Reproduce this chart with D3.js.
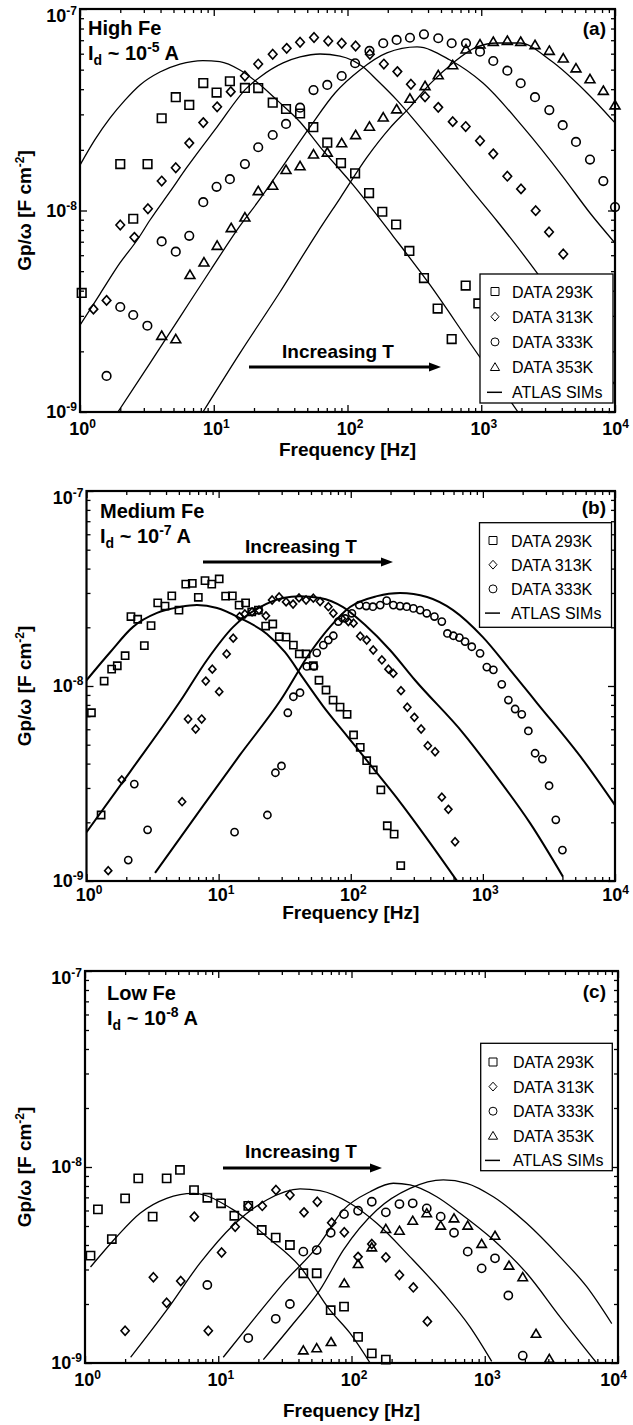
<!DOCTYPE html>
<html>
<head>
<meta charset="utf-8">
<script src="https://cdn.jsdelivr.net/npm/d3@7"></script>
<style>
  body { margin: 0; background: #fff; }
  svg { display: block; font-family: "Liberation Sans", Arial, sans-serif; }
</style>
</head>
<body>
<svg id="fig" width="633" height="1425"></svg>
<script>
// ---- data : [frequency Hz, Gp/w F cm-2] ----

// (a) High Fe
const highFe293 = [[1.03,3.9e-9],[2.0,1.7e-8],[2.5,9.1e-9],[3.2,1.7e-8],[4.08,2.87e-8],[5.2,3.65e-8],[6.56,3.34e-8],[8.35,4.29e-8],[10.5,3.85e-8],[13.2,4.38e-8],[17.1,4.06e-8],[21.5,4.05e-8],[27.6,3.43e-8],[34.7,3.19e-8],[44.2,3.03e-8],[55.5,2.59e-8],[70.6,2.17e-8],[89.4,1.72e-8],[114,1.53e-8],[145,1.22e-8],[182,9.86e-9],[231,8.52e-9],[290,6.3e-9],[373,4.62e-9],[472,3.26e-9],[601,2.3e-9],[765,4.24e-9],[951,3.46e-9]];
const highFe313 = [[1.26,3.24e-9],[1.58,3.58e-9],[2.0,8.47e-9],[2.55,7.36e-9],[3.22,1.02e-8],[4.08,1.4e-8],[5.2,1.63e-8],[6.56,2.16e-8],[8.35,2.73e-8],[10.6,3.27e-8],[13.4,3.89e-8],[17.1,4.65e-8],[21.5,5.33e-8],[27.6,5.96e-8],[35.1,6.38e-8],[44.2,6.84e-8],[56.2,7.22e-8],[71.8,6.94e-8],[90.5,6.76e-8],[115,6.55e-8],[147,5.96e-8],[187,5.33e-8],[236,4.89e-8],[298,4.23e-8],[380,3.67e-8],[477,3.25e-8],[612,2.76e-8],[765,2.61e-8],[979,2.22e-8],[1230,1.91e-8],[1567,1.48e-8],[1983,1.28e-8],[2553,9.98e-9],[3213,7.82e-9],[4104,6.08e-9]];
const highFe333 = [[1.58,1.51e-9],[2.0,3.32e-9],[2.5,3.03e-9],[3.19,2.68e-9],[4.08,7.02e-9],[5.2,6.25e-9],[6.56,7.49e-9],[8.35,1.1e-8],[10.5,1.31e-8],[13.2,1.43e-8],[17.1,1.7e-8],[21.5,2.06e-8],[27.6,2.37e-8],[34.7,2.69e-8],[44.2,3.24e-8],[55.7,3.96e-8],[70.6,4.2e-8],[90.5,4.65e-8],[114,5.38e-8],[146,6.19e-8],[185,6.76e-8],[233,7.02e-8],[293,7.2e-8],[373,7.49e-8],[477,7.16e-8],[601,6.76e-8],[769,6.76e-8],[979,6.14e-8],[1230,5.52e-8],[1567,4.94e-8],[1972,4.28e-8],[2523,3.65e-8],[3228,3.15e-8],[4064,2.65e-8],[5108,2.19e-8],[6501,1.79e-8],[8180,1.4e-8],[10000,1.04e-8]];
const highFe353 = [[4.08,2.39e-9],[5.2,2.3e-9],[6.64,4.79e-9],[8.45,5.53e-9],[10.6,6.69e-9],[13.5,8.19e-9],[17.1,9.25e-9],[21.5,1.25e-8],[27.6,1.33e-8],[34.7,1.59e-8],[44.2,1.66e-8],[55.7,1.9e-8],[70.6,1.94e-8],[90.5,2.16e-8],[115,2.37e-8],[146,2.61e-8],[185,2.9e-8],[233,3.18e-8],[293,3.59e-8],[380,4.15e-8],[477,4.7e-8],[612,5.27e-8],[769,6.31e-8],[979,6.68e-8],[1230,6.88e-8],[1567,6.96e-8],[1972,6.88e-8],[2523,6.63e-8],[3228,6.21e-8],[4104,5.69e-8],[5108,5.08e-8],[6501,4.49e-8],[8180,3.93e-8],[10000,3.33e-8]];
const highFeSim293 = [[1,1.68e-8],[1.29,2.24e-8],[1.68,2.88e-8],[2.17,3.53e-8],[2.81,4.2e-8],[3.96,4.87e-8],[5.59,5.33e-8],[8.3,5.55e-8],[11.1,5.48e-8],[15.7,4.98e-8],[21.4,4.29e-8],[29.7,3.53e-8],[44.2,2.75e-8],[62.3,2.07e-8],[110,1.34e-8],[219,7.47e-9],[414,4.27e-9],[824,2.2e-9],[1883,1.0e-9]];
const highFeSim313 = [[1,2.7e-9],[1.41,3.85e-9],[1.99,5.49e-9],[2.71,7.22e-9],[3.34,8.97e-9],[4.71,1.24e-8],[6.31,1.64e-8],[10.6,2.6e-8],[17.7,4.06e-8],[22.2,4.6e-8],[33,5.4e-8],[44.2,5.78e-8],[62.3,5.98e-8],[87.9,5.84e-8],[131,5.15e-8],[166,4.44e-8],[234,3.53e-8],[348,2.6e-8],[518,1.89e-8],[824,1.29e-8],[1312,8.87e-9],[2612,4.9e-9],[4605,2.86e-9],[10000,1.36e-9]];
const highFeSim333 = [[1.92,1.0e-9],[3.34,1.75e-9],[5.59,2.96e-9],[9.37,5.01e-9],[15.7,8.38e-9],[21.1,1.09e-8],[35.3,1.78e-8],[52.5,2.6e-8],[80.7,3.83e-8],[124,4.98e-8],[197,6.05e-8],[331,6.48e-8],[584,5.58e-8],[1030,4.29e-8],[2051,2.6e-8],[4083,1.47e-8],[6501,9.72e-9],[10000,6.9e-9]];
const highFeSim353 = [[8.3,1.0e-9],[15.7,1.96e-9],[31.3,3.94e-9],[59.2,7.73e-9],[87.9,1.15e-8],[140,1.84e-8],[208,2.57e-8],[293,3.26e-8],[414,4.25e-8],[615,5.4e-8],[929,6.48e-8],[1312,6.78e-8],[1950,6.78e-8],[3266,5.58e-8],[6180,3.83e-8],[10000,2.72e-8]];

// (b) Medium Fe
const medFe293 = [[1.09,7.29e-9],[1.29,2.18e-9],[1.36,1.06e-8],[1.55,1.22e-8],[1.71,1.27e-8],[1.96,1.43e-8],[2.17,2.27e-8],[2.44,2.2e-8],[2.74,1.61e-8],[3.08,2.04e-8],[3.46,2.67e-8],[3.93,2.57e-8],[4.42,2.9e-8],[5.01,2.45e-8],[5.64,3.33e-8],[6.32,3.36e-8],[7.02,2.85e-8],[7.89,3.47e-8],[8.87,3.33e-8],[10.1,3.54e-8],[11.3,2.89e-8],[12.7,2.9e-8],[14.3,2.6e-8],[16.0,2.67e-8],[17.8,2.4e-8],[20.0,2.45e-8],[22.7,2.03e-8],[25.7,2.08e-8],[28.8,1.79e-8],[32.4,1.78e-8],[36.8,1.62e-8],[40.8,1.46e-8],[45.9,1.46e-8],[52.1,1.27e-8],[57.5,1.07e-8],[65,9.54e-9],[73.5,8.47e-9],[83,7.8e-9],[93.8,7.16e-9],[105,5.61e-9],[118,4.85e-9],[132,4.14e-9],[148,3.71e-9],[169,2.93e-9],[189,1.92e-9],[213,1.74e-9],[239,1.2e-9]];
const medFe313 = [[1.46,1.13e-9],[1.85,3.3e-9],[5.29,2.55e-9],[5.87,6.77e-9],[6.7,6.02e-9],[7.44,6.77e-9],[7.99,1.06e-8],[8.96,1.22e-8],[10.1,9.35e-9],[11.5,1.46e-8],[12.9,1.76e-8],[14.4,2.27e-8],[15.8,2.34e-8],[17.9,2.4e-8],[20.2,2.45e-8],[22.8,2.29e-8],[25.4,2.76e-8],[28.7,2.86e-8],[32.4,2.7e-8],[36.6,2.63e-8],[40.6,2.83e-8],[45.9,2.76e-8],[52.1,2.82e-8],[58.6,2.71e-8],[67.7,2.55e-8],[73.8,2.36e-8],[85.5,2.22e-8],[95.9,2.14e-8],[105,2.1e-8],[118,1.8e-8],[132,1.72e-8],[148,1.53e-8],[172,1.36e-8],[193,1.22e-8],[210,1.16e-8],[240,9.46e-9],[268,7.78e-9],[303,6.91e-9],[341,6.02e-9],[383,4.94e-9],[435,4.6e-9],[489,2.69e-9],[548,2.33e-9],[616,1.59e-9]];
const medFe333 = [[2.07,1.28e-9],[2.3,3.14e-9],[2.9,1.83e-9],[13.2,1.78e-9],[23.4,2.18e-9],[26.9,3.59e-9],[29.9,3.89e-9],[33.4,7.29e-9],[36.8,8.81e-9],[41.3,9.24e-9],[46.5,1.26e-8],[52.7,1.26e-8],[55.3,1.48e-8],[62,1.62e-8],[67.7,1.72e-8],[73.8,1.81e-8],[80.5,2.14e-8],[90.5,2.22e-8],[102,2.36e-8],[116,2.6e-8],[131,2.57e-8],[147,2.55e-8],[167,2.6e-8],[187,2.74e-8],[210,2.6e-8],[236,2.57e-8],[265,2.55e-8],[298,2.5e-8],[335,2.45e-8],[376,2.36e-8],[430,2.27e-8],[489,2.14e-8],[539,1.86e-8],[598,1.81e-8],[664,1.77e-8],[733,1.69e-8],[824,1.59e-8],[952,1.47e-8],[1071,1.25e-8],[1201,1.21e-8],[1390,1.02e-8],[1560,8.47e-9],[1754,7.62e-9],[1970,7.16e-9],[2209,5.88e-9],[2485,4.52e-9],[2820,4.22e-9],[3170,3.08e-9],[3565,2.06e-9],[4000,1.44e-9]];
const medFeSim293 = [[1,1.07e-8],[1.51,1.49e-8],[2.25,2.01e-8],[3.42,2.37e-8],[5.1,2.54e-8],[6.86,2.6e-8],[9.73,2.51e-8],[14.5,2.23e-8],[23.2,1.85e-8],[31.8,1.49e-8],[43.5,1.1e-8],[61.7,7.89e-9],[93.8,5.54e-9],[147,3.8e-9],[236,2.54e-9],[398,1.57e-9],[638,1.0e-9]];
const medFeSim313 = [[1,1.78e-9],[2.13,3.62e-9],[5.19,8.47e-9],[8.17,1.36e-8],[12.9,2.01e-8],[20.6,2.54e-8],[30.7,2.83e-8],[41.3,2.89e-8],[58.6,2.83e-8],[87.5,2.54e-8],[128,2.06e-8],[198,1.53e-8],[307,1.07e-8],[708,5.74e-9],[1280,3.41e-9],[2277,1.98e-9],[4046,1.05e-9]];
const medFeSim333 = [[3.3,1.1e-9],[7.23,2.31e-9],[14.5,4.43e-9],[29.5,8.47e-9],[49.2,1.48e-8],[69.7,2.01e-8],[98.8,2.54e-8],[158,2.89e-8],[236,3.0e-8],[378,2.86e-8],[595,2.45e-8],[1000,1.78e-8],[1607,1.21e-8],[2570,8.18e-9],[5735,4.17e-9],[10000,2.45e-9]];

// (c) Low Fe
const lowFe293 = [[1.1,3.53e-9],[1.25,6.08e-9],[1.59,4.29e-9],[2.0,6.92e-9],[2.51,8.75e-9],[3.22,5.58e-9],[4.1,8.75e-9],[5.16,9.66e-9],[6.58,7.63e-9],[8.28,6.97e-9],[10.5,6.53e-9],[13.2,5.64e-9],[16.8,6.33e-9],[21.2,4.77e-9],[27,4.36e-9],[34.5,4.0e-9],[43.5,2.87e-9],[54.8,2.87e-9],[69.8,1.86e-9],[87.9,1.94e-9],[112,1.36e-9],[142,1.12e-9],[181,1.04e-9]];
const lowFe313 = [[2.0,1.46e-9],[3.26,2.74e-9],[4.1,2.03e-9],[5.23,2.62e-9],[6.61,5.58e-9],[8.42,1.46e-9],[10.6,3.66e-9],[13.4,4.96e-9],[16.8,6.33e-9],[21.4,6.33e-9],[27.1,7.63e-9],[34.5,7.2e-9],[44,5.87e-9],[55.4,6.65e-9],[71,5.2e-9],[88.3,4.65e-9],[112,3.48e-9],[142,4.05e-9],[181,3.46e-9],[229,2.81e-9],[291,2.43e-9],[371,1.63e-9]];
const lowFe333 = [[8.28,2.5e-9],[16.8,1.34e-9],[27,1.68e-9],[34.5,2.0e-9],[43.5,3.7e-9],[54.8,3.77e-9],[69.8,4.62e-9],[87.9,5.75e-9],[112,5.98e-9],[142,6.65e-9],[181,5.87e-9],[229,6.47e-9],[288,6.53e-9],[367,6.15e-9],[467,5.58e-9],[588,4.62e-9],[745,3.7e-9],[948,3.04e-9],[1194,3.42e-9],[1503,2.21e-9],[1928,1.09e-9]];
const lowFe353 = [[43.5,1.16e-9],[54.8,1.19e-9],[70.2,1.28e-9],[88.3,2.55e-9],[112,3.2e-9],[142,3.89e-9],[181,4.83e-9],[229,4.73e-9],[288,5.32e-9],[367,5.81e-9],[467,5.02e-9],[588,5.47e-9],[745,5.02e-9],[948,4.05e-9],[1194,4.46e-9],[1521,3.14e-9],[1928,2.74e-9],[2425,1.41e-9],[3051,1.05e-9]];
const lowFeSim293 = [[1.1,3.09e-9],[1.73,4.41e-9],[2.59,5.81e-9],[4.1,6.92e-9],[6.5,7.34e-9],[13,6.04e-9],[23.1,4.41e-9],[41.1,3.1e-9],[69,1.86e-9],[97.5,1.42e-9],[138,1.0e-9]];
const lowFeSim313 = [[2.2,1.07e-9],[4.1,1.86e-9],[7.29,3.23e-9],[13,5.06e-9],[23.1,6.79e-9],[41.1,7.73e-9],[58,7.57e-9],[97.5,6.53e-9],[155,5.16e-9],[275,3.48e-9],[489,2.27e-9],[775,1.53e-9],[1128,1.02e-9]];
const lowFeSim333 = [[10.9,1.07e-9],[18.3,1.66e-9],[30.8,2.55e-9],[58,4.08e-9],[86.8,6.04e-9],[138,7.48e-9],[206,8.26e-9],[275,8.1e-9],[436,7.05e-9],[652,5.81e-9],[1159,4.25e-9],[2065,2.87e-9],[3672,1.72e-9],[6920,1.0e-9]];
const lowFeSim353 = [[21.8,1.04e-9],[36.6,1.59e-9],[58,2.36e-9],[86.8,3.77e-9],[155,6.04e-9],[275,7.78e-9],[489,8.59e-9],[732,8.26e-9],[1159,7.05e-9],[2065,5.16e-9],[3672,3.48e-9],[5821,2.45e-9],[8970,1.59e-9]];

const markerTypes = ["square", "diamond", "circle", "triangle"];
const dataLabels = ["DATA 293K", "DATA 313K", "DATA 333K", "DATA 353K"];
const simLabel = "ATLAS SIMs";
const xDomain = [1, 1e4];
const yDomain = [1e-9, 1e-7];

// ---- layout of the three panels ----
const panels = [
  {
    tag: "(a)", name: "High Fe", idExp: "-5",
    frame: {left: 80, right: 615, top: 9, bottom: 412},
    data: [highFe293, highFe313, highFe333, highFe353],
    sims: [highFeSim293, highFeSim313, highFeSim333, highFeSim353],
    ms: 4.3, simW: 1.3,
    nameAt: [88, 35], idAt: [88, 60], tagAt: [606, 35],
    arrow: {x1: 249, x2: 441, y: 367, tx: 282, ty: 358},
    legend: {x: 480, y: 274, w: 133, h: 129, row0: 291.5, step: 25.2, sx: 495, tx: 512},
    xPad: 10, xTitleY: 456, yTitleX: 31
  },
  {
    tag: "(b)", name: "Medium Fe", idExp: "-7",
    frame: {left: 86.5, right: 615, top: 491, bottom: 881},
    data: [medFe293, medFe313, medFe333],
    sims: [medFeSim293, medFeSim313, medFeSim333],
    ms: 3.6, simW: 2,
    nameAt: [100, 518], idAt: [100, 543], tagAt: [606, 514],
    arrow: {x1: 203, x2: 393, y: 562, tx: 245, ty: 553},
    legend: {x: 479.5, y: 522.7, w: 132, h: 104.6, row0: 540.5, step: 24.2, sx: 493, tx: 511},
    xPad: 7, xTitleY: 919, yTitleX: 31
  },
  {
    tag: "(c)", name: "Low Fe", idExp: "-8",
    frame: {left: 85, right: 618, top: 971, bottom: 1363},
    data: [lowFe293, lowFe313, lowFe333, lowFe353],
    sims: [lowFeSim293, lowFeSim313, lowFeSim333, lowFeSim353],
    ms: 4.1, simW: 1.3,
    nameAt: [107, 1000], idAt: [107, 1025], tagAt: [606, 998],
    arrow: {x1: 223, x2: 382, y: 1168, tx: 245, ty: 1158},
    legend: {x: 480.7, y: 1043.3, w: 131.6, h: 127.4, row0: 1062, step: 24.6, sx: 493, tx: 513},
    xPad: 10, xTitleY: 1417, yTitleX: 31
  }
];

const svg = d3.select("#fig");

function markerPath(type, s) {
  if (type === "square") return `M${-s},${-s}H${s}V${s}H${-s}Z`;
  if (type === "diamond") return `M0,${-s * 1.1}L${s},0L0,${s * 1.1}L${-s},0Z`;
  if (type === "circle") return `M${s},0A${s},${s} 0 1,1 ${-s},0A${s},${s} 0 1,1 ${s},0Z`;
  return `M0,${-s * 1.1}L${s * 1.15},${s * 0.85}L${-s * 1.15},${s * 0.85}Z`;
}

function logTicks(lo, hi) {
  const t = [];
  for (let e = lo; e < hi; e++) for (let m = 1; m < 10; m++) t.push(m * Math.pow(10, e));
  t.push(Math.pow(10, hi));
  return t;
}
const isMajor = d => Math.abs(Math.log10(d) - Math.round(Math.log10(d))) < 1e-6;

function powerLabel(sel, exp, supSize, rise) {
  sel.append("tspan").text("10");
  sel.append("tspan").attr("dy", -rise).attr("font-size", supSize).text(exp);
}

function drawPanel(p, idx) {
  const f = p.frame;
  const x = d3.scaleLog().domain(xDomain).range([f.left, f.right]);
  const y = d3.scaleLog().domain(yDomain).range([f.bottom, f.top]);
  const g = svg.append("g");

  const clipId = "clip" + idx;
  g.append("clipPath").attr("id", clipId).append("rect")
    .attr("x", f.left).attr("y", f.top)
    .attr("width", f.right - f.left).attr("height", f.bottom - f.top);

  const xt = logTicks(0, 4), yt = logTicks(-9, -7);

  // bottom axis with labels
  const gx = g.append("g").attr("transform", `translate(0,${f.bottom})`)
    .call(d3.axisBottom(x).tickValues(xt).tickSizeInner(-4).tickSizeOuter(0).tickPadding(p.xPad)
      .tickFormat(d => isMajor(d) ? String(Math.round(Math.log10(d))) : ""));
  // left axis with labels
  const gy = g.append("g").attr("transform", `translate(${f.left},0)`)
    .call(d3.axisLeft(y).tickValues(yt).tickSizeInner(-4).tickSizeOuter(0).tickPadding(3)
      .tickFormat(d => isMajor(d) ? String(Math.round(Math.log10(d))) : ""));
  // mirrored top / right ticks
  const gt = g.append("g").attr("transform", `translate(0,${f.top})`)
    .call(d3.axisTop(x).tickValues(xt).tickSizeInner(-4).tickSizeOuter(0).tickFormat(""));
  const gr = g.append("g").attr("transform", `translate(${f.right},0)`)
    .call(d3.axisRight(y).tickValues(yt).tickSizeInner(-4).tickSizeOuter(0).tickFormat(""));

  [gx, gy, gt, gr].forEach(a => {
    a.select(".domain").remove();
    a.attr("font-family", null).attr("font-size", 18).attr("font-weight", "bold");
    a.selectAll(".tick line").attr("stroke-width", 1.3);
  });
  gx.selectAll(".tick line").attr("y2", d => isMajor(d) ? -7 : -4);
  gt.selectAll(".tick line").attr("y2", d => isMajor(d) ? 7 : 4);
  gy.selectAll(".tick line").attr("x2", d => isMajor(d) ? 7 : 4);
  gr.selectAll(".tick line").attr("x2", d => isMajor(d) ? -7 : -4);

  gx.selectAll(".tick text").each(function (d) {
    const t = d3.select(this);
    if (!isMajor(d)) { t.remove(); return; }
    const last = d >= xDomain[1] * 0.999;
    t.text(null).attr("dx", last ? (633 - f.right < 18 ? -5 : 0) : 2);
    powerLabel(t, String(Math.round(Math.log10(d))), 12, 7);
  });
  gy.selectAll(".tick text").each(function (d) {
    const t = d3.select(this);
    if (!isMajor(d)) { t.remove(); return; }
    t.text(null);
    if (d >= yDomain[1] * 0.999) t.attr("y", 7);
    powerLabel(t, String(Math.round(Math.log10(d))), 12, 7);
  });

  // simulation curves
  const line = d3.line().x(d => x(d[0])).y(d => y(d[1])).curve(d3.curveMonotoneX);
  g.append("g").attr("clip-path", `url(#${clipId})`)
    .selectAll("path").data(p.sims).join("path")
    .attr("d", line).attr("fill", "none").attr("stroke", "#000")
    .attr("stroke-width", p.simW).attr("stroke-linejoin", "round");

  // measured data
  p.data.forEach((series, i) => {
    g.append("g").selectAll("path").data(series).join("path")
      .attr("transform", d => `translate(${x(d[0])},${y(d[1])})`)
      .attr("d", markerPath(markerTypes[i], p.ms))
      .attr("fill", "none").attr("stroke", "#000").attr("stroke-width", 1.6);
  });

  // frame
  g.append("rect").attr("x", f.left).attr("y", f.top)
    .attr("width", f.right - f.left).attr("height", f.bottom - f.top)
    .attr("fill", "none").attr("stroke", "#000").attr("stroke-width", 2.2);

  // annotations
  g.append("text").attr("x", p.nameAt[0]).attr("y", p.nameAt[1])
    .attr("font-size", 20).attr("font-weight", "bold").text(p.name);
  const id = g.append("text").attr("x", p.idAt[0]).attr("y", p.idAt[1])
    .attr("font-size", 20).attr("font-weight", "bold");
  id.append("tspan").text("I");
  id.append("tspan").attr("dy", 5).attr("font-size", 14).text("d");
  id.append("tspan").attr("dy", -5).text(" ~ 10");
  id.append("tspan").attr("dy", -8).attr("font-size", 14).text(p.idExp);
  id.append("tspan").attr("dy", 8).text(" A");
  g.append("text").attr("x", p.tagAt[0]).attr("y", p.tagAt[1]).attr("text-anchor", "end")
    .attr("font-size", 19).attr("font-weight", "bold").text(p.tag);

  const a = p.arrow;
  g.append("text").attr("x", a.tx).attr("y", a.ty)
    .attr("font-size", 19).attr("font-weight", "bold").text("Increasing T");
  g.append("line").attr("x1", a.x1).attr("x2", a.x2 - 9).attr("y1", a.y).attr("y2", a.y)
    .attr("stroke", "#000").attr("stroke-width", 3);
  g.append("path").attr("d", `M${a.x2},${a.y}L${a.x2 - 12},${a.y - 4.5}L${a.x2 - 12},${a.y + 4.5}Z`)
    .attr("fill", "#000");

  // legend
  const L = p.legend;
  const lg = g.append("g");
  lg.append("rect").attr("x", L.x).attr("y", L.y).attr("width", L.w).attr("height", L.h)
    .attr("fill", "#fff").attr("stroke", "#000").attr("stroke-width", 1.3);
  const entries = p.data.map((s, i) => ({type: markerTypes[i], label: dataLabels[i]}))
    .concat([{type: "line", label: simLabel}]);
  entries.forEach((e, i) => {
    const cy = L.row0 + i * L.step;
    if (e.type === "line") {
      lg.append("line").attr("x1", L.sx - 8).attr("x2", L.sx + 7).attr("y1", cy).attr("y2", cy)
        .attr("stroke", "#000").attr("stroke-width", 1.5);
    } else {
      lg.append("path").attr("transform", `translate(${L.sx},${cy})`)
        .attr("d", markerPath(e.type, 4)).attr("fill", "none").attr("stroke", "#000").attr("stroke-width", 1);
    }
    lg.append("text").attr("x", L.tx).attr("y", cy + 6).attr("font-size", 16).text(e.label);
  });

  // axis titles
  g.append("text").attr("x", (f.left + f.right) / 2).attr("y", p.xTitleY)
    .attr("text-anchor", "middle").attr("font-size", 19).attr("font-weight", "bold")
    .text("Frequency [Hz]");
  const yt2 = g.append("text")
    .attr("transform", `translate(${p.yTitleX},${(f.top + f.bottom) / 2}) rotate(-90)`)
    .attr("text-anchor", "middle").attr("font-size", 19).attr("font-weight", "bold");
  yt2.append("tspan").text("Gp/\u03c9 [F cm");
  yt2.append("tspan").attr("dy", -7).attr("font-size", 12).text("-2");
  yt2.append("tspan").attr("dy", 7).text("]");
}

panels.forEach(drawPanel);
</script>
</body>
</html>
